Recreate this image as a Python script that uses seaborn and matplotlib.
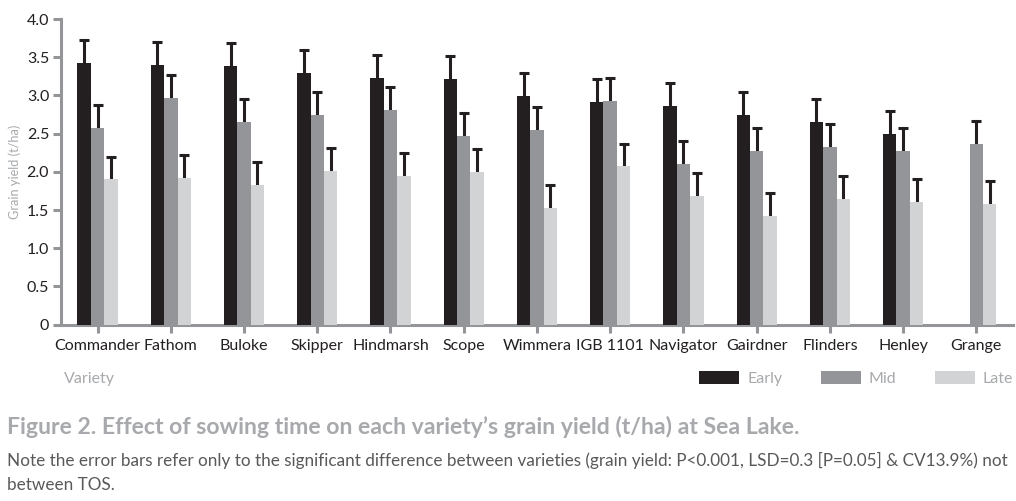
import numpy as np
import pandas as pd
import matplotlib
matplotlib.use('Agg')
import matplotlib.pyplot as plt
import seaborn as sns

varieties = ['Commander', 'Fathom', 'Buloke', 'Skipper', 'Hindmarsh', 'Scope', 'Wimmera',
             'IGB 1101', 'Navigator', 'Gairdner', 'Flinders', 'Henley', 'Grange']
early = [3.42, 3.40, 3.38, 3.30, 3.23, 3.21, 2.99, 2.92, 2.86, 2.74, 2.65, 2.50, np.nan]
mid = [2.57, 2.97, 2.65, 2.75, 2.81, 2.47, 2.55, 2.93, 2.10, 2.27, 2.32, 2.27, 2.37]
late = [1.90, 1.92, 1.83, 2.01, 1.95, 2.00, 1.53, 2.07, 1.68, 1.42, 1.65, 1.60, 1.58]
lsd = 0.3
tos = ['Early', 'Mid', 'Late']
colors = ['#231f20', '#939598', '#d1d3d4']

df = pd.DataFrame({'Variety': varieties * 3,
                   'TOS': np.repeat(tos, len(varieties)),
                   'Yield': early + mid + late})

sns.set_style('white')
plt.rcParams['font.family'] = ['Lato', 'DejaVu Sans']

axis_grey = '#939598'
text_dark = '#231f20'
label_grey = '#a7a9ac'

fig = plt.figure(figsize=(10.16, 5.01), dpi=100)
ax = fig.add_axes([0.060, 0.352, 0.937, 0.610])

sns.barplot(data=df, x='Variety', y='Yield', hue='TOS', hue_order=tos,
            palette=colors, width=0.55, errorbar=None, ax=ax, zorder=3,
            saturation=1, linewidth=0)

# upper error bars only: symmetric bars drawn behind the opaque columns
for p in ax.patches:
    h = p.get_height()
    if np.isnan(h) or h == 0:
        continue
    ax.errorbar(p.get_x() + p.get_width() / 2, h, yerr=lsd, fmt='none',
                ecolor=text_dark, elinewidth=2.2, capsize=3.6, capthick=2.2, zorder=2)

ax.set_xlim(-0.5, len(varieties) - 0.5)
ax.set_ylim(0, 4.0)
ax.set_yticks(np.arange(0, 4.01, 0.5))
ax.set_yticklabels(['0'] + ['%.1f' % v for v in np.arange(0.5, 4.01, 0.5)])

for s in ['top', 'right']:
    ax.spines[s].set_visible(False)
for s in ['left', 'bottom']:
    ax.spines[s].set_color(axis_grey)
    ax.spines[s].set_linewidth(2.2)

ax.tick_params(axis='both', bottom=True, left=True, colors=axis_grey, width=2.2,
               length=5.5, labelcolor=text_dark, labelsize=11.5)
ax.tick_params(axis='x', pad=5)
ax.tick_params(axis='y', pad=3)

ax.set_xlabel('')
ax.set_ylabel('Grain yield (t/ha)', color=label_grey, fontsize=9.2, labelpad=4)

handles, labels = ax.get_legend_handles_labels()
ax.legend(handles, labels, ncol=3, frameon=False, loc='center right',
          bbox_to_anchor=(1.0, -0.175), borderpad=0, borderaxespad=0,
          fontsize=11.5, labelcolor=label_grey,
          handlelength=2.5, handleheight=0.9, handletextpad=0.5, columnspacing=2.4)

fig.text(0.063, 0.243, 'Variety', color=label_grey, fontsize=11.5, va='center')
fig.text(0.007, 0.148, 'Figure 2. Effect of sowing time on each variety\u2019s grain yield (t/ha) at Sea Lake.',
         color=label_grey, fontsize=16.6, fontweight='bold', va='center')
fig.text(0.007, 0.080, 'Note the error bars refer only to the significant difference between varieties '
         '(grain yield: P<0.001, LSD=0.3 [P=0.05] & CV13.9%) not',
         color='#58595b', fontsize=12.3, va='center')
fig.text(0.007, 0.031, 'between TOS.', color='#58595b', fontsize=12.3, va='center')

fig.savefig('out.png', dpi=100)
